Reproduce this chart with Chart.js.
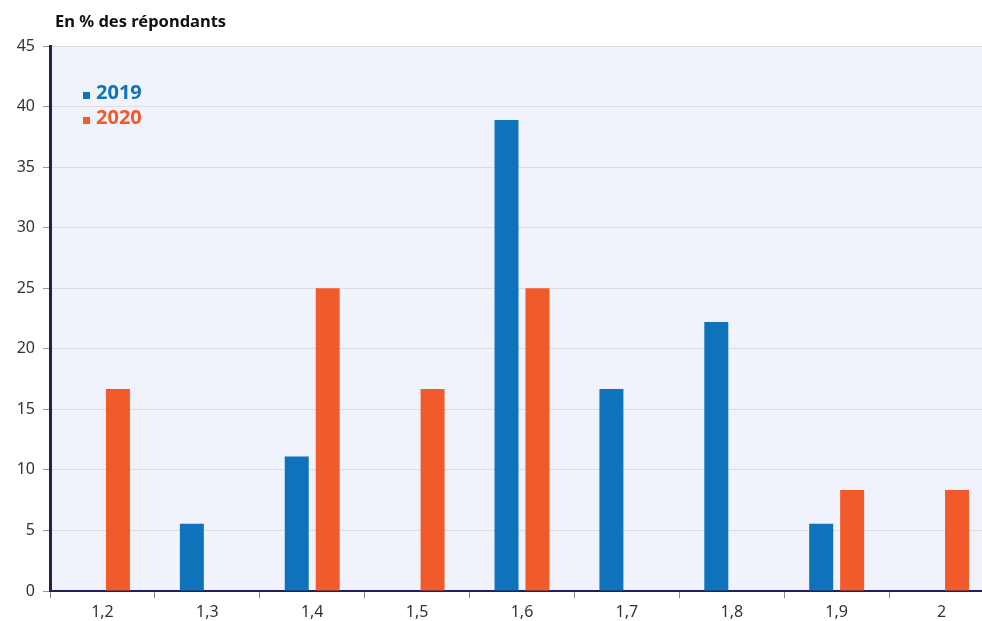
<!DOCTYPE html>
<html>
<head>
<meta charset="utf-8">
<script src="https://cdn.jsdelivr.net/npm/chart.js@4.4.0/dist/chart.umd.min.js"></script>
<style>
  html, body { margin: 0; padding: 0; background: #ffffff; overflow: hidden; }
  #clip { width: 982px; height: 621px; overflow: hidden; }
  #wrap { width: 994px; height: 621px; }
</style>
</head>
<body>
<div id="clip"><div id="wrap"><canvas id="ratioChart"></canvas></div></div>
<script>
// Données
const categories = ['1,2', '1,3', '1,4', '1,5', '1,6', '1,7', '1,8', '1,9', '2'];
const values2019 = [0, 5.56, 11.11, 0, 38.89, 16.67, 22.22, 5.56, 0];
const values2020 = [16.67, 0, 25, 16.67, 25, 0, 0, 8.33, 8.33];
const yTicks = [0, 5, 10, 15, 20, 25, 30, 35, 40, 45];

const blue = '#0f73bc';
const orange = '#f15a2a';
const fontFamily = '"Noto Sans", "Open Sans", sans-serif';

// fond de la zone de tracé + titre + légende interne
const decorPlugin = {
    id: 'decor',
    beforeDraw(chart) {
        const { ctx, chartArea } = chart;
        ctx.save();
        ctx.fillStyle = '#f0f3fb';
        ctx.fillRect(chartArea.left, chartArea.top, chartArea.right - chartArea.left, chartArea.bottom - chartArea.top);
        ctx.restore();
    },
    afterDraw(chart) {
        const { ctx, chartArea } = chart;
        ctx.save();
        ctx.fillStyle = '#111111';
        ctx.font = 'bold 16.5px ' + fontFamily;
        ctx.textBaseline = 'middle';
        ctx.fillText('En % des répondants', 55, 22);

        ctx.font = 'bold 20px ' + fontFamily;
        chart.data.datasets.forEach((ds, i) => {
            const y = chartArea.top + 49 + i * 25;
            ctx.fillStyle = ds.backgroundColor;
            ctx.fillRect(chartArea.left + 33, y - 3, 7, 7);
            ctx.fillText(ds.label, chartArea.left + 46, y - 2);
        });
        ctx.restore();
    }
};

const ratioCtx = document.getElementById('ratioChart').getContext('2d');
new Chart(ratioCtx, {
    type: 'bar',
    data: {
        labels: categories,
        datasets: [
            {
                label: '2019',
                data: values2019,
                backgroundColor: blue,
                categoryPercentage: 0.59,
                barPercentage: 0.775
            },
            {
                label: '2020',
                data: values2020,
                backgroundColor: orange,
                categoryPercentage: 0.59,
                barPercentage: 0.775
            }
        ]
    },
    options: {
        responsive: true,
        maintainAspectRatio: false,
        animation: false,
        layout: { padding: { top: 46, right: 0, left: 0, bottom: 0 } },
        scales: {
            x: {
                grid: {
                    offset: true,
                    drawOnChartArea: false,
                    drawTicks: true,
                    tickLength: 7,
                    tickColor: '#888888'
                },
                border: { color: '#231f5a', width: 2 },
                ticks: {
                    color: '#333333',
                    padding: 5,
                    font: { family: fontFamily, size: 16 }
                },
                afterFit(scale) { scale.height = 30; }
            },
            y: {
                min: 0,
                max: 45,
                afterBuildTicks(scale) {
                    scale.ticks = yTicks.map(v => ({ value: v }));
                },
                grid: {
                    color: '#dddddd',
                    tickLength: 7,
                    tickColor: '#999999'
                },
                border: { color: '#231f5a', width: 3 },
                ticks: {
                    color: '#333333',
                    padding: 8,
                    font: { family: fontFamily, size: 16 }
                },
                afterFit(scale) { scale.width = 50; }
            }
        },
        plugins: {
            legend: { display: false },
            title: { display: false },
            tooltip: { enabled: false }
        }
    },
    plugins: [decorPlugin]
});
</script>
</body>
</html>
